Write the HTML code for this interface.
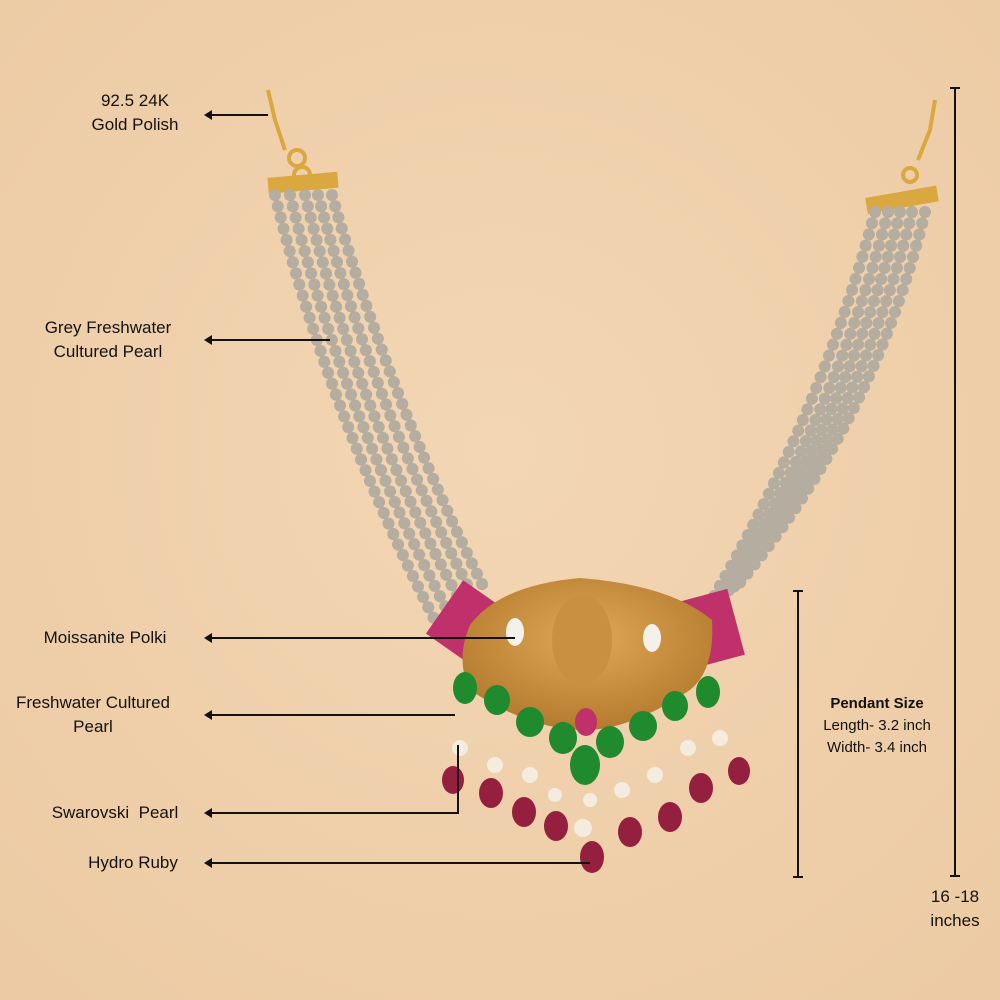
<!DOCTYPE html>
<html><head><style>
html,body{margin:0;padding:0}
body{width:1000px;height:1000px;overflow:hidden;background:#f0d2ac;position:relative;font-family:"Liberation Sans",sans-serif;color:#141210}
.t{position:absolute;font-size:17px;line-height:24px;text-align:center;white-space:nowrap;transform:translateX(-50%)}
svg{position:absolute;left:0;top:0}
</style></head><body>
<svg width="1000" height="1000" viewBox="0 0 1000 1000">
<defs>
<radialGradient id="bg" cx="50%" cy="45%" r="70%"><stop offset="0" stop-color="#f3d6b4"/><stop offset="1" stop-color="#eccba4"/></radialGradient>
<radialGradient id="gold" cx="50%" cy="40%" r="60%"><stop offset="0" stop-color="#e0a856"/><stop offset="1" stop-color="#b47a2e"/></radialGradient>
</defs>
<rect width="1000" height="1000" fill="url(#bg)"/>
<g stroke="#d9a840" stroke-width="4" fill="none">
<path d="M268 90 L275 120 L285 150"/><circle cx="297" cy="158" r="8"/><circle cx="302" cy="175" r="8"/>
<path d="M935 100 L930 130 L918 160"/><circle cx="910" cy="175" r="7"/>
</g>
<rect x="268" y="175" width="70" height="16" fill="#d9a840" transform="rotate(-5 300 183)"/>
<rect x="866" y="192" width="72" height="16" fill="#d9a840" transform="rotate(-10 900 200)"/>
<g stroke="#b4ada0" stroke-width="12" stroke-linecap="round" stroke-dasharray="0.1 11.5" fill="none">
<path d="M275 195 Q330 420 445 640"/>
<path d="M290 195 Q345 420 455 625"/>
<path d="M305 195 Q360 420 465 610"/>
<path d="M318 195 Q375 410 475 600"/>
<path d="M332 195 Q390 400 485 590"/>
<path d="M875 212 Q820 420 700 620"/>
<path d="M888 212 Q835 420 712 610"/>
<path d="M900 212 Q848 420 722 600"/>
<path d="M912 212 Q862 420 730 592"/>
<path d="M925 212 Q875 420 738 585"/>
</g>
<rect x="440" y="590" width="55" height="65" fill="#c0306a" transform="rotate(35 467 622)"/>
<rect x="682" y="595" width="55" height="68" fill="#c0306a" transform="rotate(-15 709 629)"/>
<path d="M470 625 Q500 585 580 578 Q670 585 712 620 Q715 670 690 690 Q630 730 585 730 Q530 730 470 690 Q455 660 470 625Z" fill="url(#gold)"/>
<ellipse cx="582" cy="640" rx="30" ry="45" fill="#c89040"/>
<ellipse cx="515" cy="632" rx="9" ry="14" fill="#f4f0ea"/>
<ellipse cx="652" cy="638" rx="9" ry="14" fill="#f4f0ea"/>
<g fill="#1f8a2e">
<ellipse cx="465" cy="688" rx="12" ry="16"/><ellipse cx="497" cy="700" rx="13" ry="15"/><ellipse cx="530" cy="722" rx="14" ry="15"/><ellipse cx="563" cy="738" rx="14" ry="16"/>
<ellipse cx="610" cy="742" rx="14" ry="16"/><ellipse cx="643" cy="726" rx="14" ry="15"/><ellipse cx="675" cy="706" rx="13" ry="15"/><ellipse cx="708" cy="692" rx="12" ry="16"/>
<ellipse cx="585" cy="765" rx="15" ry="20"/>
</g>
<ellipse cx="586" cy="722" rx="11" ry="14" fill="#c0306a"/>
<g fill="#f3ecdf">
<circle cx="460" cy="748" r="8"/><circle cx="495" cy="765" r="8"/><circle cx="530" cy="775" r="8"/><circle cx="583" cy="828" r="9"/><circle cx="622" cy="790" r="8"/><circle cx="655" cy="775" r="8"/><circle cx="688" cy="748" r="8"/><circle cx="720" cy="738" r="8"/><circle cx="555" cy="795" r="7"/><circle cx="590" cy="800" r="7"/>
</g>
<g fill="#951f3f">
<ellipse cx="453" cy="780" rx="11" ry="14"/><ellipse cx="491" cy="793" rx="12" ry="15"/><ellipse cx="524" cy="812" rx="12" ry="15"/><ellipse cx="556" cy="826" rx="12" ry="15"/><ellipse cx="592" cy="857" rx="12" ry="16"/><ellipse cx="630" cy="832" rx="12" ry="15"/><ellipse cx="670" cy="817" rx="12" ry="15"/><ellipse cx="701" cy="788" rx="12" ry="15"/><ellipse cx="739" cy="771" rx="11" ry="14"/>
</g>
<g stroke="#141210" stroke-width="2" fill="none">
<line x1="208" y1="115" x2="268" y2="115"/>
<line x1="208" y1="340" x2="330" y2="340"/>
<line x1="208" y1="638" x2="515" y2="638"/>
<line x1="208" y1="715" x2="455" y2="715"/>
<polyline points="208,813 458,813 458,745"/>
<line x1="208" y1="863" x2="590" y2="863"/>
<line x1="955" y1="88" x2="955" y2="876"/><line x1="950" y1="88" x2="960" y2="88"/><line x1="950" y1="876" x2="960" y2="876"/>
<line x1="798" y1="591" x2="798" y2="877"/><line x1="793" y1="591" x2="803" y2="591"/><line x1="793" y1="877" x2="803" y2="877"/>
</g>
<g fill="#141210">
<path d="M204 115 l8 -5 v10z"/><path d="M204 340 l8 -5 v10z"/><path d="M204 638 l8 -5 v10z"/><path d="M204 715 l8 -5 v10z"/><path d="M204 813 l8 -5 v10z"/><path d="M204 863 l8 -5 v10z"/>
</g>
</svg>
<div class="t" style="left:135px;top:89px">92.5 24K<br>Gold Polish</div>
<div class="t" style="left:108px;top:316px">Grey Freshwater<br>Cultured Pearl</div>
<div class="t" style="left:105px;top:626px">Moissanite Polki</div>
<div class="t" style="left:93px;top:691px">Freshwater Cultured<br>Pearl</div>
<div class="t" style="left:115px;top:801px">Swarovski&nbsp; Pearl</div>
<div class="t" style="left:133px;top:851px">Hydro Ruby</div>
<div class="t" style="left:877px;top:693px;font-size:15px;line-height:22px"><b>Pendant Size</b><br>Length- 3.2 inch<br>Width- 3.4 inch</div>
<div class="t" style="left:955px;top:885px">16 -18<br>inches</div>
</body></html>
